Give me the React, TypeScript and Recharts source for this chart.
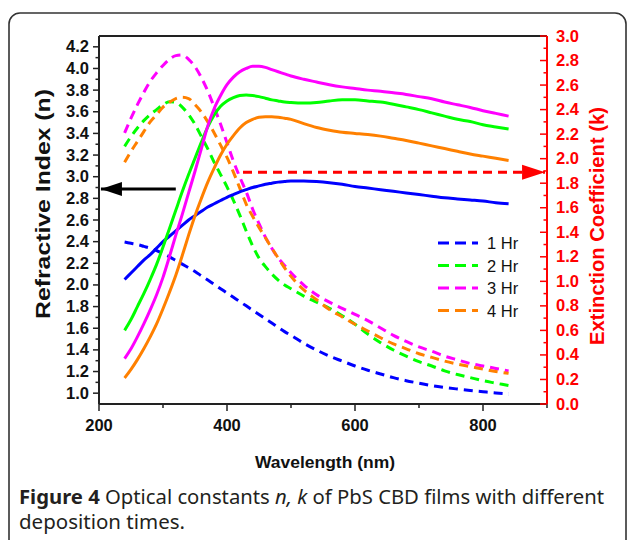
import React from 'react';
import { LineChart, Line, XAxis, YAxis, ReferenceLine } from 'recharts';

// ---------- data ----------
const wavelength = [240, 250, 260, 270, 280, 290, 300, 310, 320, 330, 340, 350, 360, 370, 380, 390, 400, 410, 420, 430, 440, 450, 460, 470, 480, 490, 500, 520, 540, 560, 580, 600, 620, 640, 660, 680, 700, 720, 740, 760, 780, 800, 820, 840];

// refractive index n (solid, left axis)
const n1Hr = [2.05, 2.11, 2.17, 2.23, 2.28, 2.34, 2.40, 2.45, 2.50, 2.55, 2.60, 2.64, 2.68, 2.72, 2.75, 2.78, 2.81, 2.835, 2.86, 2.88, 2.90, 2.915, 2.93, 2.94, 2.95, 2.955, 2.96, 2.96, 2.955, 2.945, 2.93, 2.91, 2.895, 2.88, 2.865, 2.85, 2.835, 2.82, 2.805, 2.795, 2.785, 2.775, 2.76, 2.75];
const n2Hr = [1.58, 1.68, 1.80, 1.92, 2.05, 2.19, 2.35, 2.52, 2.69, 2.86, 3.02, 3.17, 3.32, 3.46, 3.57, 3.65, 3.70, 3.73, 3.75, 3.755, 3.75, 3.74, 3.725, 3.71, 3.70, 3.69, 3.685, 3.68, 3.685, 3.70, 3.71, 3.71, 3.70, 3.69, 3.67, 3.645, 3.62, 3.59, 3.56, 3.53, 3.51, 3.48, 3.46, 3.44];
const n3Hr = [1.32, 1.41, 1.52, 1.64, 1.77, 1.91, 2.07, 2.26, 2.46, 2.65, 2.85, 3.05, 3.26, 3.47, 3.63, 3.75, 3.85, 3.92, 3.97, 4.00, 4.02, 4.02, 4.01, 3.99, 3.97, 3.95, 3.93, 3.90, 3.875, 3.85, 3.83, 3.815, 3.80, 3.79, 3.775, 3.76, 3.74, 3.72, 3.69, 3.665, 3.64, 3.61, 3.585, 3.56];
const n4Hr = [1.14, 1.22, 1.31, 1.41, 1.52, 1.64, 1.78, 1.93, 2.09, 2.27, 2.46, 2.64, 2.80, 2.95, 3.08, 3.20, 3.30, 3.38, 3.45, 3.50, 3.53, 3.55, 3.555, 3.555, 3.55, 3.54, 3.53, 3.49, 3.455, 3.43, 3.41, 3.40, 3.39, 3.375, 3.355, 3.335, 3.31, 3.285, 3.26, 3.235, 3.21, 3.19, 3.17, 3.15];

// extinction coefficient k (dashed, right axis)
const k1Hr = [1.32, 1.31, 1.30, 1.285, 1.27, 1.25, 1.225, 1.20, 1.17, 1.14, 1.11, 1.08, 1.045, 1.01, 0.975, 0.94, 0.905, 0.87, 0.835, 0.80, 0.765, 0.73, 0.695, 0.66, 0.625, 0.59, 0.56, 0.495, 0.44, 0.39, 0.35, 0.31, 0.275, 0.245, 0.215, 0.19, 0.17, 0.15, 0.135, 0.122, 0.11, 0.10, 0.09, 0.082];
const k2Hr = [2.10, 2.18, 2.25, 2.31, 2.36, 2.40, 2.44, 2.465, 2.46, 2.42, 2.36, 2.28, 2.18, 2.08, 1.97, 1.87, 1.77, 1.66, 1.54, 1.41, 1.29, 1.19, 1.12, 1.06, 1.01, 0.97, 0.94, 0.88, 0.83, 0.78, 0.72, 0.65, 0.57, 0.50, 0.44, 0.39, 0.345, 0.31, 0.27, 0.24, 0.215, 0.19, 0.17, 0.15];
const k3Hr = [2.21, 2.33, 2.44, 2.54, 2.63, 2.70, 2.76, 2.81, 2.84, 2.845, 2.81, 2.75, 2.66, 2.55, 2.42, 2.28, 2.13, 1.98, 1.85, 1.73, 1.59, 1.47, 1.36, 1.27, 1.19, 1.13, 1.07, 0.97, 0.89, 0.83, 0.78, 0.73, 0.68, 0.62, 0.56, 0.51, 0.465, 0.43, 0.39, 0.36, 0.33, 0.31, 0.29, 0.27];
const k4Hr = [1.97, 2.06, 2.14, 2.22, 2.30, 2.36, 2.42, 2.46, 2.49, 2.50, 2.49, 2.44, 2.38, 2.30, 2.21, 2.11, 2.01, 1.89, 1.76, 1.63, 1.53, 1.44, 1.355, 1.27, 1.19, 1.11, 1.04, 0.93, 0.85, 0.77, 0.71, 0.65, 0.595, 0.54, 0.49, 0.45, 0.41, 0.38, 0.35, 0.325, 0.305, 0.285, 0.265, 0.25];

const seriesLabels = ['1 Hr', '2 Hr', '3 Hr', '4 Hr'];
const seriesColors = ['#0000ff', '#00ff00', '#ff00ff', '#ff8000'];
const nKeys = ['n1', 'n2', 'n3', 'n4'];
const kKeys = ['k1', 'k2', 'k3', 'k4'];

const xTicks = [200, 300, 400, 500, 600, 700, 800, 900];
const nTicks = [1.0, 1.1, 1.2, 1.3, 1.4, 1.5, 1.6, 1.7, 1.8, 1.9, 2.0, 2.1, 2.2, 2.3, 2.4, 2.5, 2.6, 2.7, 2.8, 2.9, 3.0, 3.1, 3.2, 3.3, 3.4, 3.5, 3.6, 3.7, 3.8, 3.9, 4.0, 4.1, 4.2];
const kTicks = [0.0, 0.1, 0.2, 0.3, 0.4, 0.5, 0.6, 0.7, 0.8, 0.9, 1.0, 1.1, 1.2, 1.3, 1.4, 1.5, 1.6, 1.7, 1.8, 1.9, 2.0, 2.1, 2.2, 2.3, 2.4, 2.5, 2.6, 2.7, 2.8, 2.9, 3.0];

// annotation arrows (wavelength, value)
const nArrow = [{ w: 203, v: 2.886 }, { w: 320, v: 2.886 }];
const kArrow = [{ w: 425, v: 1.889 }, { w: 897, v: 1.889 }];

const data = wavelength.map((w, i) => ({
  w,
  n1: n1Hr[i], n2: n2Hr[i], n3: n3Hr[i], n4: n4Hr[i],
  k1: k1Hr[i], k2: k2Hr[i], k3: k3Hr[i], k4: k4Hr[i],
}));

const FONT = '"Liberation Sans", Arial, sans-serif';
const CAPTION_FONT = '"Noto Sans", "Open Sans", sans-serif';

const isMajor = (v: number) => Math.round(v * 10) % 2 === 0;

const XTick = (props: any) => {
  const { x, y, payload } = props;
  const v = payload.value;
  const major = v % 200 === 0;
  return (
    <g>
      <line x1={x} x2={x} y1={y} y2={y + (major ? 7 : 4)} stroke="#222" strokeWidth={1.5} />
      {major && (
        <text x={x} y={y + 27} textAnchor="middle" fontFamily={FONT} fontWeight="bold" fontSize={16.5} fill="#111">
          {v}
        </text>
      )}
    </g>
  );
};

const NTick = (props: any) => {
  const { x, y, payload } = props;
  const v = payload.value;
  const major = isMajor(v);
  return (
    <g>
      <line x1={x - (major ? 6 : 3.5)} x2={x} y1={y} y2={y} stroke="#222" strokeWidth={1.5} />
      {major && (
        <text x={x - 10} y={y + 5.5} textAnchor="end" fontFamily={FONT} fontWeight="bold" fontSize={16.5} fill="#111">
          {v.toFixed(1)}
        </text>
      )}
    </g>
  );
};

const KTick = (props: any) => {
  const { x, y, payload } = props;
  const v = payload.value;
  const major = isMajor(v);
  return (
    <g>
      <line x1={x - (major ? 7 : 3.5)} x2={x} y1={y} y2={y} stroke="#ff0000" strokeWidth={1.5} />
      {major && (
        <text x={x + 9} y={y + 5.5} textAnchor="start" fontFamily={FONT} fontWeight="bold" fontSize={16.5} fill="#ff0000">
          {v.toFixed(1)}
        </text>
      )}
    </g>
  );
};

const LeftArrowHead = (props: any) => {
  const { cx, cy, index } = props;
  if (index !== 0 || cx == null) return <g key={`la${index}`} />;
  return <polygon key="la" points={`${cx},${cy} ${cx + 21},${cy - 7} ${cx + 21},${cy + 7}`} fill="#000" />;
};

const RightArrowHead = (props: any) => {
  const { cx, cy, index } = props;
  if (index !== 1 || cx == null) return <g key={`ra${index}`} />;
  return <polygon key="ra" points={`${cx},${cy} ${cx - 23},${cy - 7.5} ${cx - 23},${cy + 7.5}`} fill="#ff0000" />;
};

export default function App() {
  return (
    <div style={{ position: 'absolute', left: 0, top: 0, width: 629, height: 540, background: '#fff', overflow: 'hidden' }}>
      <LineChart width={629} height={540} data={data} margin={{ top: 36, right: 32, bottom: 106, left: 39 }}>
        <XAxis
          dataKey="w"
          type="number"
          domain={[200, 900]}
          ticks={xTicks}
          interval={0}
          tickSize={0}
          tickMargin={0}
          tickLine={false}
          height={30}
          axisLine={{ stroke: '#222', strokeWidth: 2 }}
          tick={XTick}
          allowDataOverflow
        />
        <YAxis
          yAxisId="n"
          type="number"
          domain={[0.9, 4.3]}
          ticks={nTicks}
          interval={0}
          tickSize={0}
          tickMargin={0}
          tickLine={false}
          width={60}
          axisLine={{ stroke: '#222', strokeWidth: 2 }}
          tick={NTick}
          allowDataOverflow
        />
        <YAxis
          yAxisId="k"
          orientation="right"
          type="number"
          domain={[0, 3]}
          ticks={kTicks}
          interval={0}
          tickSize={0}
          tickMargin={0}
          tickLine={false}
          width={50}
          axisLine={{ stroke: '#ff0000', strokeWidth: 2 }}
          tick={KTick}
          allowDataOverflow
        />
        <ReferenceLine yAxisId="n" y={4.3} stroke="#222" strokeWidth={2} ifOverflow="visible" />

        {kKeys.map((key, i) => (
          <Line
            key={key}
            yAxisId="k"
            dataKey={key}
            type="monotone"
            stroke={seriesColors[i]}
            strokeWidth={3}
            strokeDasharray="9 6"
            dot={false}
            activeDot={false}
            isAnimationActive={false}
          />
        ))}
        {nKeys.map((key, i) => (
          <Line
            key={key}
            yAxisId="n"
            dataKey={key}
            type="monotone"
            stroke={seriesColors[i]}
            strokeWidth={3}
            dot={false}
            activeDot={false}
            isAnimationActive={false}
          />
        ))}
        <Line
          data={nArrow}
          dataKey="v"
          yAxisId="n"
          type="linear"
          stroke="#000"
          strokeWidth={3}
          dot={LeftArrowHead}
          activeDot={false}
          isAnimationActive={false}
        />
        <Line
          data={kArrow}
          dataKey="v"
          yAxisId="k"
          type="linear"
          stroke="#ff0000"
          strokeWidth={3}
          strokeDasharray="9 6"
          dot={RightArrowHead}
          activeDot={false}
          isAnimationActive={false}
        />
      </LineChart>

      <svg width={629} height={540} style={{ position: 'absolute', left: 0, top: 0, pointerEvents: 'none' }}>
        {/* outer rounded frame */}
        <rect x={9} y={13} width={617} height={600} rx={11} ry={11} fill="none" stroke="#333" strokeWidth={1.6} />

        {/* axis titles */}
        <text
          x={0}
          y={0}
          transform="translate(50,204) rotate(-90)"
          textAnchor="middle"
          fontFamily={FONT}
          fontWeight="bold"
          fontSize={20}
          fill="#111"
          textLength={230}
          lengthAdjust="spacingAndGlyphs"
        >
          Refractive Index (n)
        </text>
        <text
          x={0}
          y={0}
          transform="translate(604,226) rotate(-90)"
          textAnchor="middle"
          fontFamily={FONT}
          fontWeight="bold"
          fontSize={19.5}
          fill="#ff0000"
          textLength={238}
          lengthAdjust="spacingAndGlyphs"
        >
          Extinction Coefficient  (k)
        </text>
        <text x={325} y={468} textAnchor="middle" fontFamily={FONT} fontWeight="bold" fontSize={17} fill="#111" textLength={140} lengthAdjust="spacingAndGlyphs">
          Wavelength (nm)
        </text>

        {/* legend */}
        {seriesLabels.map((lab, i) => (
          <g key={lab}>
            <line x1={438} x2={478} y1={243 + i * 22.5} y2={243 + i * 22.5} stroke={seriesColors[i]} strokeWidth={3} strokeDasharray="11 6" />
            <text x={487} y={243 + i * 22.5 + 6} fontFamily={FONT} fontSize={16.5} fill="#111">
              {lab}
            </text>
          </g>
        ))}

        {/* caption */}
        <text x={19} y={504} fontFamily={CAPTION_FONT} fontSize={19} fill="#231f20" textLength={585} lengthAdjust="spacingAndGlyphs">
          <tspan fontWeight="bold">Figure 4</tspan> Optical constants <tspan fontStyle="italic">n, k</tspan> of PbS CBD films with different
        </text>
        <text x={19} y={529} fontFamily={CAPTION_FONT} fontSize={19} fill="#231f20" textLength={166} lengthAdjust="spacingAndGlyphs">
          deposition times.
        </text>
      </svg>
    </div>
  );
}
